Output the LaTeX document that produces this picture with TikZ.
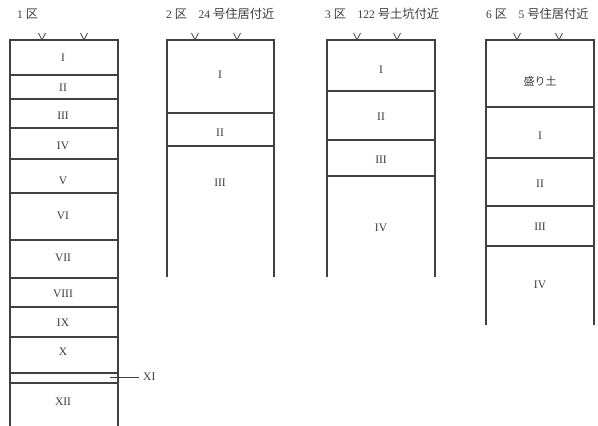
\documentclass[tikz,border=0pt]{standalone}
\usepackage{fontspec}
\setmainfont{Liberation Serif}
\newfontfamily\cjk{Noto Sans CJK JP}
\definecolor{ln}{HTML}{404040}
\definecolor{tx}{HTML}{3C3C3C}
\newcommand{\kj}[1]{{\cjk\fontsize{12.3}{12}\selectfont #1}}
\begin{document}
\begin{tikzpicture}[x=1pt,y=-1pt,
  col/.style={draw=ln,line width=1.1pt},
  lay/.style={text=tx,font=\fontsize{11.5}{11}\selectfont,inner sep=0pt},
  ttl/.style={text=tx,font=\fontsize{11.5}{11}\selectfont,anchor=west,inner sep=0pt},
  vmark/.style={draw=ln,line width=0.8pt}]
\useasboundingbox (0,0) rectangle (598,426);
% titles
\node[ttl] (t1) at (17,14) {1 \kj{区}};
\node[ttl] (t2) at (166,14) {2 \kj{区}\hspace{1em}24 \kj{号住居付近}};
\node[ttl] (t3) at (325,14) {3 \kj{区}\hspace{1em}122 \kj{号土坑付近}};
\node[ttl] (t6) at (486,14) {6 \kj{区}\hspace{1em}5 \kj{号住居付近}};
% V marks
\foreach \x in {42,84,195,237,357,397,517,559}{
  \draw[vmark] (\x-3.5,33) -- (\x,40) -- (\x+3.5,33);
}
% column 1
\draw[col] (10,426) -- (10,40) -- (118,40) -- (118,426);
\foreach \y in {75,99,128,159,193,240,278,307,337,373,383}{
  \draw[col] (10,\y) -- (118,\y);
}
\node[lay] (c1a) at (63,58) {I};
\node[lay] (c1b) at (63,88) {II};
\node[lay] (c1c) at (63,116) {III};
\node[lay] (c1d) at (63,146) {IV};
\node[lay] (c1e) at (63,181) {V};
\node[lay] (c1f) at (63,216) {VI};
\node[lay] (c1g) at (63,258) {VII};
\node[lay] (c1h) at (63,294) {VIII};
\node[lay] (c1i) at (63,323) {IX};
\node[lay] (c1j) at (63,352) {X};
\node[lay] (c1l) at (63,402) {XII};
\coordinate (xs) at (110,377);
\node[lay,anchor=west] (c1k) at (143,377) {XI};
\draw[draw=ln,line width=0.8pt] (xs) -- ([xshift=-4pt]c1k.west);
% column 2
\draw[col] (167,277) -- (167,40) -- (274,40) -- (274,277);
\foreach \y in {113,146}{ \draw[col] (167,\y) -- (274,\y); }
\node[lay] (c2a) at (220,75) {I};
\node[lay] (c2b) at (220,133) {II};
\node[lay] (c2c) at (220,183) {III};
% column 3
\draw[col] (327,277) -- (327,40) -- (435,40) -- (435,277);
\foreach \y in {91,140,176}{ \draw[col] (327,\y) -- (435,\y); }
\node[lay] (c3a) at (381,70) {I};
\node[lay] (c3b) at (381,117) {II};
\node[lay] (c3c) at (381,160) {III};
\node[lay] (c3d) at (381,228) {IV};
% column 4
\draw[col] (486,325) -- (486,40) -- (594,40) -- (594,325);
\foreach \y in {107,158,206,246}{ \draw[col] (486,\y) -- (594,\y); }
\node[lay,font=\cjk\fontsize{11}{11}\selectfont] (c4o) at (540,81) {盛り土};
\node[lay] (c4a) at (540,136) {I};
\node[lay] (c4b) at (540,184) {II};
\node[lay] (c4c) at (540,227) {III};
\node[lay] (c4d) at (540,285) {IV};
\end{tikzpicture}
\end{document}
